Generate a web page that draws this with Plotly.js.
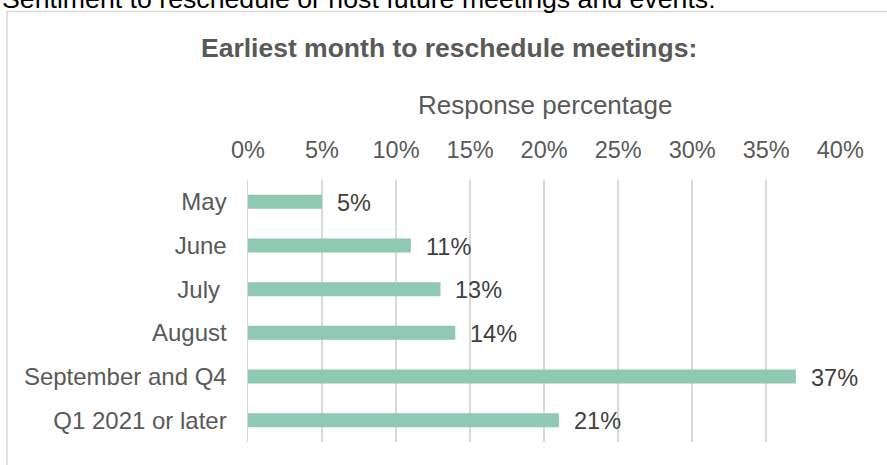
<!DOCTYPE html>
<html>
<head>
<meta charset="utf-8">
<script src="https://cdn.plot.ly/plotly-3.0.1.min.js"></script>
<style>html,body{margin:0;padding:0;background:#fff;}#chart{width:887px;height:465px;}</style>
</head>
<body>
<div id="chart"></div>
<script>
// Data
var categories = ["May", "June", "July ", "August", "September and Q4", "Q1 2021 or later"];
var values = [5, 11, 13, 14, 37, 21];
var tickValues = [0, 5, 10, 15, 20, 25, 30, 35, 40];
var tickLabels = ["0%", "5%", "10%", "15%", "20%", "25%", "30%", "35%", "40%"];
var chartTitle = "Earliest month to reschedule meetings:";
var axisTitle = "Response percentage";
var headerText = "Sentiment to reschedule or host future meetings and events:";

var W = 887, H = 465;
var M = {l: 248, r: 46, t: 180, b: 23};
var plotW = W - M.l - M.r, plotH = H - M.t - M.b;
function px(xp) { return (xp - M.l) / plotW; }
function py(yp) { return (H - M.b - yp) / plotH; }
var FONT = 'Liberation Sans, Arial, sans-serif';

var labelAnns = values.map(function (v, i) {
  return {
    x: v, y: categories[i], xref: 'x', yref: 'y',
    text: v + '%', showarrow: false, xanchor: 'left', yanchor: 'middle',
    xshift: 13, yshift: -1,
    font: {family: FONT, size: 23.5, color: '#404040'}
  };
});

var annotations = labelAnns.concat([
  {x: px(449), y: py(48), xref: 'paper', yref: 'paper', text: '<b>' + chartTitle + '</b>',
   showarrow: false, xanchor: 'center', yanchor: 'middle',
   font: {family: FONT, size: 26.5, color: '#595959'}},
  {x: px(545), y: py(105), xref: 'paper', yref: 'paper', text: axisTitle,
   showarrow: false, xanchor: 'center', yanchor: 'middle',
   font: {family: FONT, size: 26, color: '#595959'}},
  {x: px(0), y: py(16), xref: 'paper', yref: 'paper', text: headerText,
   showarrow: false, xanchor: 'left', yanchor: 'bottom',
   font: {family: FONT, size: 26.7, color: '#000000'}}
]);

var trace = {
  type: 'bar', orientation: 'h',
  x: values, y: categories,
  marker: {color: '#8FC9B4'},
  hoverinfo: 'none'
};

var layout = {
  width: W, height: H,
  margin: M,
  paper_bgcolor: '#ffffff', plot_bgcolor: '#ffffff',
  showlegend: false,
  bargap: 0.68,
  xaxis: {
    side: 'top', range: [0, 40.05], tickvals: tickValues, ticktext: tickLabels,
    showgrid: true, gridcolor: '#D9D9D9', gridwidth: 1.5, zeroline: false, showline: false,
    ticks: 'outside', ticklen: 12, tickcolor: 'rgba(0,0,0,0)',
    tickfont: {family: FONT, size: 23.5, color: '#595959'},
    fixedrange: true
  },
  yaxis: {
    autorange: 'reversed', type: 'category',
    showgrid: false, zeroline: false, showline: true, linecolor: '#D9D9D9', linewidth: 1.5,
    ticks: 'outside', ticklen: 15, tickcolor: 'rgba(0,0,0,0)',
    tickfont: {family: FONT, size: 24, color: '#595959'},
    fixedrange: true
  },
  shapes: [{
    type: 'rect', xref: 'paper', yref: 'paper',
    x0: px(7), x1: px(900), y0: py(11.5), y1: py(480),
    line: {color: '#D9D9D9', width: 1.5}, fillcolor: 'rgba(0,0,0,0)', layer: 'below'
  }],
  annotations: annotations
};

Plotly.newPlot('chart', [trace], layout, {displayModeBar: false, staticPlot: true});
</script>
</body>
</html>
